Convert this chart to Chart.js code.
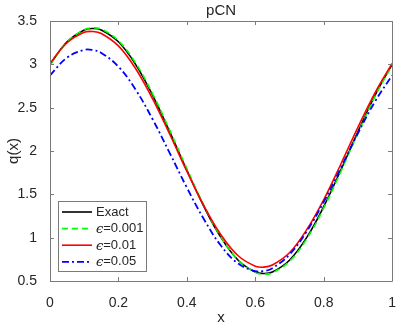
<!DOCTYPE html>
<html>
<head>
<meta charset="utf-8">
<script src="https://cdn.jsdelivr.net/npm/chart.js@4.4.0/dist/chart.umd.min.js"></script>
<style>
html, body { margin: 0; padding: 0; background: #fff; }
</style>
</head>
<body>
<canvas id="chart" width="402" height="327"></canvas>
<script>
// values
const xs = [0, 0.05, 0.1, 0.125, 0.15, 0.2, 0.25, 0.3, 0.35, 0.4, 0.45, 0.5,
            0.55, 0.6, 0.625, 0.65, 0.7, 0.75, 0.8, 0.85, 0.9, 0.95, 1];
const exact = [3.0, 3.260, 3.397, 3.414, 3.397, 3.260, 3.0, 2.642, 2.221, 1.779, 1.358, 1.0,
               0.740, 0.603, 0.586, 0.603, 0.740, 1.0, 1.358, 1.779, 2.221, 2.642, 3.0];
const eps001 = [2.991, 3.257, 3.400, 3.420, 3.406, 3.272, 3.017, 2.660, 2.240, 1.796, 1.371, 1.006,
                0.745, 0.600, 0.580, 0.594, 0.728, 0.983, 1.341, 1.761, 2.204, 2.629, 2.991];
const eps01 = [3.010, 3.249, 3.369, 3.379, 3.356, 3.213, 2.952, 2.601, 2.193, 1.767, 1.367, 1.031,
               0.791, 0.671, 0.660, 0.684, 0.826, 1.090, 1.437, 1.847, 2.272, 2.671, 3.010];
const eps05 = [2.872, 3.078, 3.167, 3.165, 3.132, 2.973, 2.710, 2.366, 1.976, 1.578, 1.212, 0.906,
               0.701, 0.613, 0.615, 0.648, 0.805, 1.070, 1.411, 1.804, 2.204, 2.570, 2.872];

const seriesLabels = ['Exact', 'ϵ=0.001', 'ϵ=0.01', 'ϵ=0.05'];
const xTicks = [0, 0.2, 0.4, 0.6, 0.8, 1];
const xTickLabels = ['0', '0.2', '0.4', '0.6', '0.8', '1'];
const yTicks = [0.5, 1, 1.5, 2, 2.5, 3, 3.5];
const yTickLabels = ['0.5', '1', '1.5', '2', '2.5', '3', '3.5'];

const textColor = '#262626';
const boxColor = '#7a7a7a';
const fontName = '"Liberation Sans", Arial, sans-serif';

function pts(ys) {
    return xs.map((x, i) => ({ x: x, y: ys[i] }));
}

// matlab style box, inward ticks, title and a legend in the lower left
const matlabAxes = {
    id: 'matlabAxes',
    afterDatasetsDraw(chart) {
        const ctx = chart.ctx;
        const a = chart.chartArea;
        const sx = chart.scales.x, sy = chart.scales.y;
        ctx.save();
        ctx.strokeStyle = boxColor;
        ctx.lineWidth = 1;
        ctx.setLineDash([]);
        ctx.beginPath();
        ctx.rect(Math.round(a.left) + 0.5, Math.round(a.top) + 0.5,
                 Math.round(a.right - a.left), Math.round(a.bottom - a.top));
        xTicks.forEach(v => {
            const px = Math.round(sx.getPixelForValue(v)) + 0.5;
            ctx.moveTo(px, a.bottom); ctx.lineTo(px, a.bottom - 4);
            ctx.moveTo(px, a.top); ctx.lineTo(px, a.top + 4);
        });
        yTicks.forEach(v => {
            const py = Math.round(sy.getPixelForValue(v)) + 0.5;
            ctx.moveTo(a.left, py); ctx.lineTo(a.left + 4, py);
            ctx.moveTo(a.right, py); ctx.lineTo(a.right - 4, py);
        });
        ctx.stroke();

        // legend
        const lx = 58, ly = 201, lw = 88, lh = 70;
        ctx.fillStyle = '#fff';
        ctx.fillRect(lx, ly, lw, lh);
        ctx.strokeStyle = boxColor;
        ctx.strokeRect(lx + 0.5, ly + 0.5, lw, lh);
        chart.data.datasets.forEach((ds, i) => {
            const yc = 212 + i * 16.6;
            ctx.strokeStyle = ds.borderColor;
            ctx.lineWidth = ds.borderWidth;
            ctx.setLineDash(ds.borderDash || []);
            ctx.beginPath();
            ctx.moveTo(62, yc); ctx.lineTo(92, yc);
            ctx.stroke();
            ctx.setLineDash([]);
            ctx.fillStyle = textColor;
            ctx.textBaseline = 'middle';
            ctx.textAlign = 'left';
            let tx = 96;
            let label = ds.label;
            if (label.startsWith('ϵ')) {
                ctx.font = 'italic 13px "DejaVu Serif", serif';
                ctx.fillText('ϵ', tx, yc + 1);
                tx += ctx.measureText('ϵ').width;
                label = label.slice(1);
            }
            ctx.font = '13px ' + fontName;
            ctx.fillText(label, tx, yc);
        });
        ctx.restore();
    },
    afterDraw(chart) {
        const ctx = chart.ctx;
        const a = chart.chartArea;
        const cx = (a.left + a.right) / 2;
        const cy = (a.top + a.bottom) / 2;
        ctx.save();
        ctx.fillStyle = textColor;
        ctx.textAlign = 'center';
        ctx.textBaseline = 'alphabetic';
        ctx.font = '15px ' + fontName;
        ctx.fillText('pCN', cx, 15);
        ctx.fillText('x', cx, 322);
        ctx.translate(18, cy);
        ctx.rotate(-Math.PI / 2);
        ctx.fillText('q(x)', 0, 0);
        ctx.restore();
    }
};

const ctx = document.getElementById('chart').getContext('2d');
new Chart(ctx, {
    type: 'line',
    data: {
        datasets: [
            { label: seriesLabels[0], data: pts(exact), borderColor: '#000000', borderWidth: 1.6, order: 4 },
            { label: seriesLabels[1], data: pts(eps001), borderColor: '#00ff00', borderWidth: 1.6, borderDash: [6, 4], order: 3 },
            { label: seriesLabels[2], data: pts(eps01), borderColor: '#ff0000', borderWidth: 1.6, order: 2 },
            { label: seriesLabels[3], data: pts(eps05), borderColor: '#0000ff', borderWidth: 1.8, borderDash: [7, 3, 2, 3], order: 1 }
        ]
    },
    options: {
        responsive: false,
        animation: false,
        devicePixelRatio: 1,
        layout: { padding: { top: 21, right: 9, left: 0, bottom: 0 } },
        elements: {
            point: { radius: 0 },
            line: { tension: 0.4, fill: false }
        },
        plugins: {
            legend: { display: false },
            tooltip: { enabled: false },
            title: { display: false }
        },
        scales: {
            x: {
                type: 'linear',
                min: 0, max: 1,
                grid: { display: false },
                border: { display: false },
                afterBuildTicks: s => { s.ticks = xTicks.map(v => ({ value: v })); },
                afterFit: s => { s.height = 46; },
                ticks: {
                    padding: 6,
                    color: textColor,
                    font: { family: fontName, size: 14 },
                    maxRotation: 0,
                    callback: (v, i) => xTickLabels[i]
                }
            },
            y: {
                type: 'linear',
                min: 0.5, max: 3.5,
                grid: { display: false },
                border: { display: false },
                afterBuildTicks: s => { s.ticks = yTicks.map(v => ({ value: v })); },
                afterFit: s => { s.width = 50; },
                ticks: {
                    padding: 5,
                    color: textColor,
                    font: { family: fontName, size: 14 },
                    callback: (v, i) => yTickLabels[i]
                }
            }
        }
    },
    plugins: [matlabAxes]
});
</script>
</body>
</html>
